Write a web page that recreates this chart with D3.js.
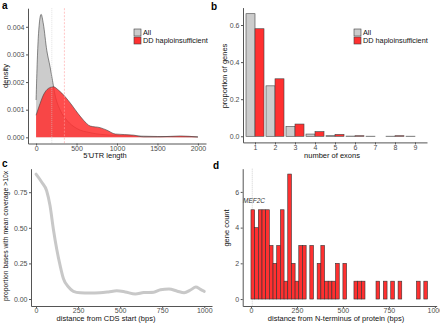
<!DOCTYPE html>
<html>
<head>
<meta charset="utf-8">
<script src="https://cdn.jsdelivr.net/npm/d3@7"></script>
<style>
  body { margin: 0; background: #fff; }
  svg { display: block; font-family: "Liberation Sans", Arial, sans-serif; }
</style>
</head>
<body>
<div id="figure"></div>
<script>
// ---- data ----
// a: 5'UTR length densities
const allDensX = [0, 15, 30, 62, 90, 132, 173, 202, 235, 297, 380, 503, 668, 916, 1200, 1500, 2000];
const allDensY = [0.00135, 0.0028, 0.00375, 0.00445, 0.0041, 0.00315, 0.00255, 0.00207, 0.00153, 0.00099, 0.00062, 0.00032, 0.00017, 0.00008, 0.00005, 0.00003, 0.00002];
const ddDensX = [0, 50, 90, 152, 214, 276, 359, 441, 516, 586, 668, 792, 875, 978, 1205, 1329, 1535, 1782, 2000];
const ddDensY = [0.0008, 0.00123, 0.00153, 0.00177, 0.00183, 0.00171, 0.00147, 0.00117, 0.00087, 0.00062, 0.00041, 0.00035, 0.00026, 0.00012, 0.00008, 0.00002, 0.00002, 0.00005, 0.00001];
const medianAll = 194;
const medianDD = 350;
const utrTicks = [0, 500, 1000, 1500, 2000];
const densTicks = [0, 0.001, 0.002, 0.003, 0.004];

// b: number of exons
const exonCounts = [1, 2, 3, 4, 5, 6, 7, 8, 9];
const propAll = [0.661, 0.272, 0.052, 0.012, 0.003, 0.001, 0.0005, 0.0005, 0.0005];
const propDD = [0.58, 0.31, 0.066, 0.025, 0.01, 0.003, 0, 0.003, 0];
const propTicks = [0, 0.2, 0.4, 0.6];

// c: coverage by distance from CDS start
const cdsDist = [0, 34, 63, 83, 103, 123, 143, 163, 193, 222, 262, 320, 380, 430, 480, 530, 590, 640, 700, 740, 790, 840, 880, 920, 950, 975, 1000];
const cdsProp = [0.877, 0.82, 0.76, 0.656, 0.49, 0.35, 0.236, 0.142, 0.084, 0.054, 0.044, 0.042, 0.044, 0.05, 0.058, 0.05, 0.035, 0.045, 0.048, 0.065, 0.07, 0.055, 0.044, 0.065, 0.084, 0.07, 0.054];
const cdsTicks = [0, 250, 500, 750, 1000];
const covTicks = [0, 0.25, 0.5, 0.75];

// d: distance from N-terminus histogram (bin width 20)
const binWidth = 20;
const binStarts = [0, 20, 40, 60, 80, 100, 120, 140, 160, 180, 200, 220, 240, 260, 280, 320, 360, 380, 400, 420, 440, 460, 500, 560, 580, 600, 680, 720, 760, 800, 900, 940];
const geneCounts = [5, 4, 5, 5, 5, 3, 2, 3, 5, 1, 7, 2, 1, 3, 3, 3, 2, 3, 1, 1, 1, 2, 2, 1, 1, 1, 1, 1, 1, 1, 1, 1];
const mef2cPos = 7;
const nTermTicks = [0, 250, 500, 750, 1000];
const countTicks = [0, 2, 4, 6];

const grey = "#cccccc";
const red = "#ff3030";
const outline = "#404040";

// ---- svg ----
const svg = d3.select("#figure").append("svg")
  .attr("width", 440)
  .attr("height", 324);

function styleAxis(g) {
  g.attr("font-family", null).attr("font-size", 7);
  g.select(".domain").attr("stroke", "#555");
  g.selectAll(".tick line").attr("stroke", "#555");
  g.selectAll(".tick text").attr("fill", "#4d4d4d");
}

function bottomAxis(scale, ticks, y, fmt) {
  svg.append("g").attr("transform", "translate(0," + y + ")")
    .call(d3.axisBottom(scale).tickValues(ticks).tickFormat(fmt)
      .tickSize(2).tickPadding(0.5).tickSizeOuter(0))
    .call(styleAxis);
}

function leftAxis(scale, ticks, x, fmt) {
  svg.append("g").attr("transform", "translate(" + x + ",0)")
    .call(d3.axisLeft(scale).tickValues(ticks).tickFormat(fmt)
      .tickSize(2).tickPadding(1.5).tickSizeOuter(0))
    .call(styleAxis);
}

function xTitle(text, x, y) {
  svg.append("text").attr("x", x).attr("y", y)
    .attr("text-anchor", "middle").attr("font-size", 7.5).attr("fill", "#111")
    .text(text);
}

function yTitle(text, x, y, size) {
  svg.append("text")
    .attr("transform", "translate(" + x + "," + y + ") rotate(-90)")
    .attr("text-anchor", "middle").attr("font-size", size || 7.5).attr("fill", "#111")
    .text(text);
}

function panelLabel(text, x, y) {
  svg.append("text").attr("x", x).attr("y", y)
    .attr("font-size", 10).attr("font-weight", "bold").text(text);
}

function legend(x, y) {
  const items = [["All", grey], ["DD haploinsufficient", red]];
  items.forEach(function (it, i) {
    svg.append("rect").attr("x", x).attr("y", y + i * 8)
      .attr("width", 7).attr("height", 7)
      .attr("fill", it[1]).attr("stroke", outline).attr("stroke-width", 0.6);
    svg.append("text").attr("x", x + 9).attr("y", y + i * 8 + 6)
      .attr("font-size", 7.3).attr("fill", "#111").text(it[0]);
  });
}

// ---- panel a ----
var xa = d3.scaleLinear().domain([-100, 2100]).range([28, 206]);
var ya = d3.scaleLinear().domain([-0.000223, 0.004673]).range([143.5, 8.2]);

var allData = allDensX.map(function (d, i) { return { x: d, y: allDensY[i] }; });
var ddData = ddDensX.map(function (d, i) { return { x: d, y: ddDensY[i] }; });

var area = d3.area()
  .x(function (d) { return xa(d.x); })
  .y0(ya(0))
  .y1(function (d) { return ya(d.y); })
  .curve(d3.curveMonotoneX);
var line = d3.line()
  .x(function (d) { return xa(d.x); })
  .y(function (d) { return ya(d.y); })
  .curve(d3.curveMonotoneX);

svg.append("path").datum(allData).attr("d", area).attr("fill", grey);
svg.append("path").datum(allData).attr("d", line)
  .attr("fill", "none").attr("stroke", outline).attr("stroke-width", 0.6);
svg.append("path").datum(ddData).attr("d", area).attr("fill", red).attr("fill-opacity", 0.86);
svg.append("path").datum(ddData).attr("d", line)
  .attr("fill", "none").attr("stroke", outline).attr("stroke-width", 0.6);

svg.append("line")
  .attr("x1", xa(medianAll)).attr("x2", xa(medianAll))
  .attr("y1", ya.range()[1]).attr("y2", ya.range()[0])
  .attr("stroke", "#d0d0d0").attr("stroke-width", 0.6).attr("stroke-dasharray", "1,1");
svg.append("line")
  .attr("x1", xa(medianDD)).attr("x2", xa(medianDD))
  .attr("y1", ya.range()[1]).attr("y2", ya.range()[0])
  .attr("stroke", "#ffa0a0").attr("stroke-width", 0.6).attr("stroke-dasharray", "2,1.5");

bottomAxis(xa, utrTicks, ya.range()[0], d3.format("d"));
leftAxis(ya, densTicks, xa.range()[0], d3.format(".3f"));

xTitle("5'UTR length", 105, 158);
yTitle("density", 8, 76);
legend(134, 29);
panelLabel("a", 2, 9);

// ---- panel b ----
var xb = d3.scaleLinear().domain([0.4, 9.6]).range([243, 427]);
var yb = d3.scaleLinear().domain([-0.033, 0.694]).range([142.4, 7.6]);
var barW = 9;

svg.append("g").selectAll("rect")
  .data(exonCounts)
  .enter()
  .append("rect")
  .attr("x", function (d) { return xb(d) - barW; })
  .attr("y", function (d, i) { return yb(propAll[i]); })
  .attr("width", barW)
  .attr("height", function (d, i) { return yb(0) - yb(propAll[i]); })
  .attr("fill", grey).attr("stroke", outline).attr("stroke-width", 0.6);

svg.append("g").selectAll("rect")
  .data(exonCounts)
  .enter()
  .append("rect")
  .attr("x", function (d) { return xb(d); })
  .attr("y", function (d, i) { return yb(propDD[i]); })
  .attr("width", barW)
  .attr("height", function (d, i) { return yb(0) - yb(propDD[i]); })
  .attr("fill", red).attr("stroke", outline).attr("stroke-width", 0.6);

bottomAxis(xb, exonCounts, yb.range()[0], d3.format("d"));
leftAxis(yb, propTicks, xb.range()[0], d3.format(".1f"));

xTitle("number of exons", 332, 158);
yTitle("proportion of genes", 227, 76);
legend(354, 29);
panelLabel("b", 211, 10);

// ---- panel c ----
var xc = d3.scaleLinear().domain([-30, 1046]).range([31, 212]);
var yc = d3.scaleLinear().domain([-0.049, 0.915]).range([306, 168.7]);

var covData = cdsDist.map(function (d, i) { return { x: d, y: cdsProp[i] }; });
svg.append("path").datum(covData)
  .attr("d", d3.line()
    .x(function (d) { return xc(d.x); })
    .y(function (d) { return yc(d.y); })
    .curve(d3.curveMonotoneX))
  .attr("fill", "none").attr("stroke", "#c8c8c8").attr("stroke-width", 3)
  .attr("stroke-linejoin", "round").attr("stroke-linecap", "round");

bottomAxis(xc, cdsTicks, yc.range()[0], d3.format("d"));
leftAxis(yc, covTicks, xc.range()[0], d3.format(".2f"));

xTitle("distance from CDS start (bps)", 106, 321);
yTitle("proportion bases with mean coverage >10x", 8, 236, 6.8);
panelLabel("c", 2, 167);

// ---- panel d ----
var xd = d3.scaleLinear().domain([-45, 1010]).range([242.7, 436.7]);
var yd = d3.scaleLinear().domain([-0.39, 7.3]).range([306, 168.7]);

svg.append("line")
  .attr("x1", xd(mef2cPos)).attr("x2", xd(mef2cPos))
  .attr("y1", yd.range()[1]).attr("y2", yd.range()[0])
  .attr("stroke", "#b0b0b0").attr("stroke-width", 0.6).attr("stroke-dasharray", "1,1");

svg.append("g").selectAll("rect")
  .data(binStarts)
  .enter()
  .append("rect")
  .attr("x", function (d) { return xd(d); })
  .attr("y", function (d, i) { return yd(geneCounts[i]); })
  .attr("width", function (d) { return xd(d + binWidth) - xd(d); })
  .attr("height", function (d, i) { return yd(0) - yd(geneCounts[i]); })
  .attr("fill", red).attr("stroke", "#333").attr("stroke-width", 0.6);

svg.append("text").attr("x", 254).attr("y", 203)
  .attr("text-anchor", "middle").attr("font-size", 6.5).attr("font-style", "italic")
  .attr("fill", "#333").text("MEF2C");

bottomAxis(xd, nTermTicks, yd.range()[0], d3.format("d"));
leftAxis(yd, countTicks, xd.range()[0], d3.format("d"));

xTitle("distance from N-terminus of protein (bps)", 336, 321);
yTitle("gene count", 229, 228);
panelLabel("d", 213, 169);
</script>
</body>
</html>
